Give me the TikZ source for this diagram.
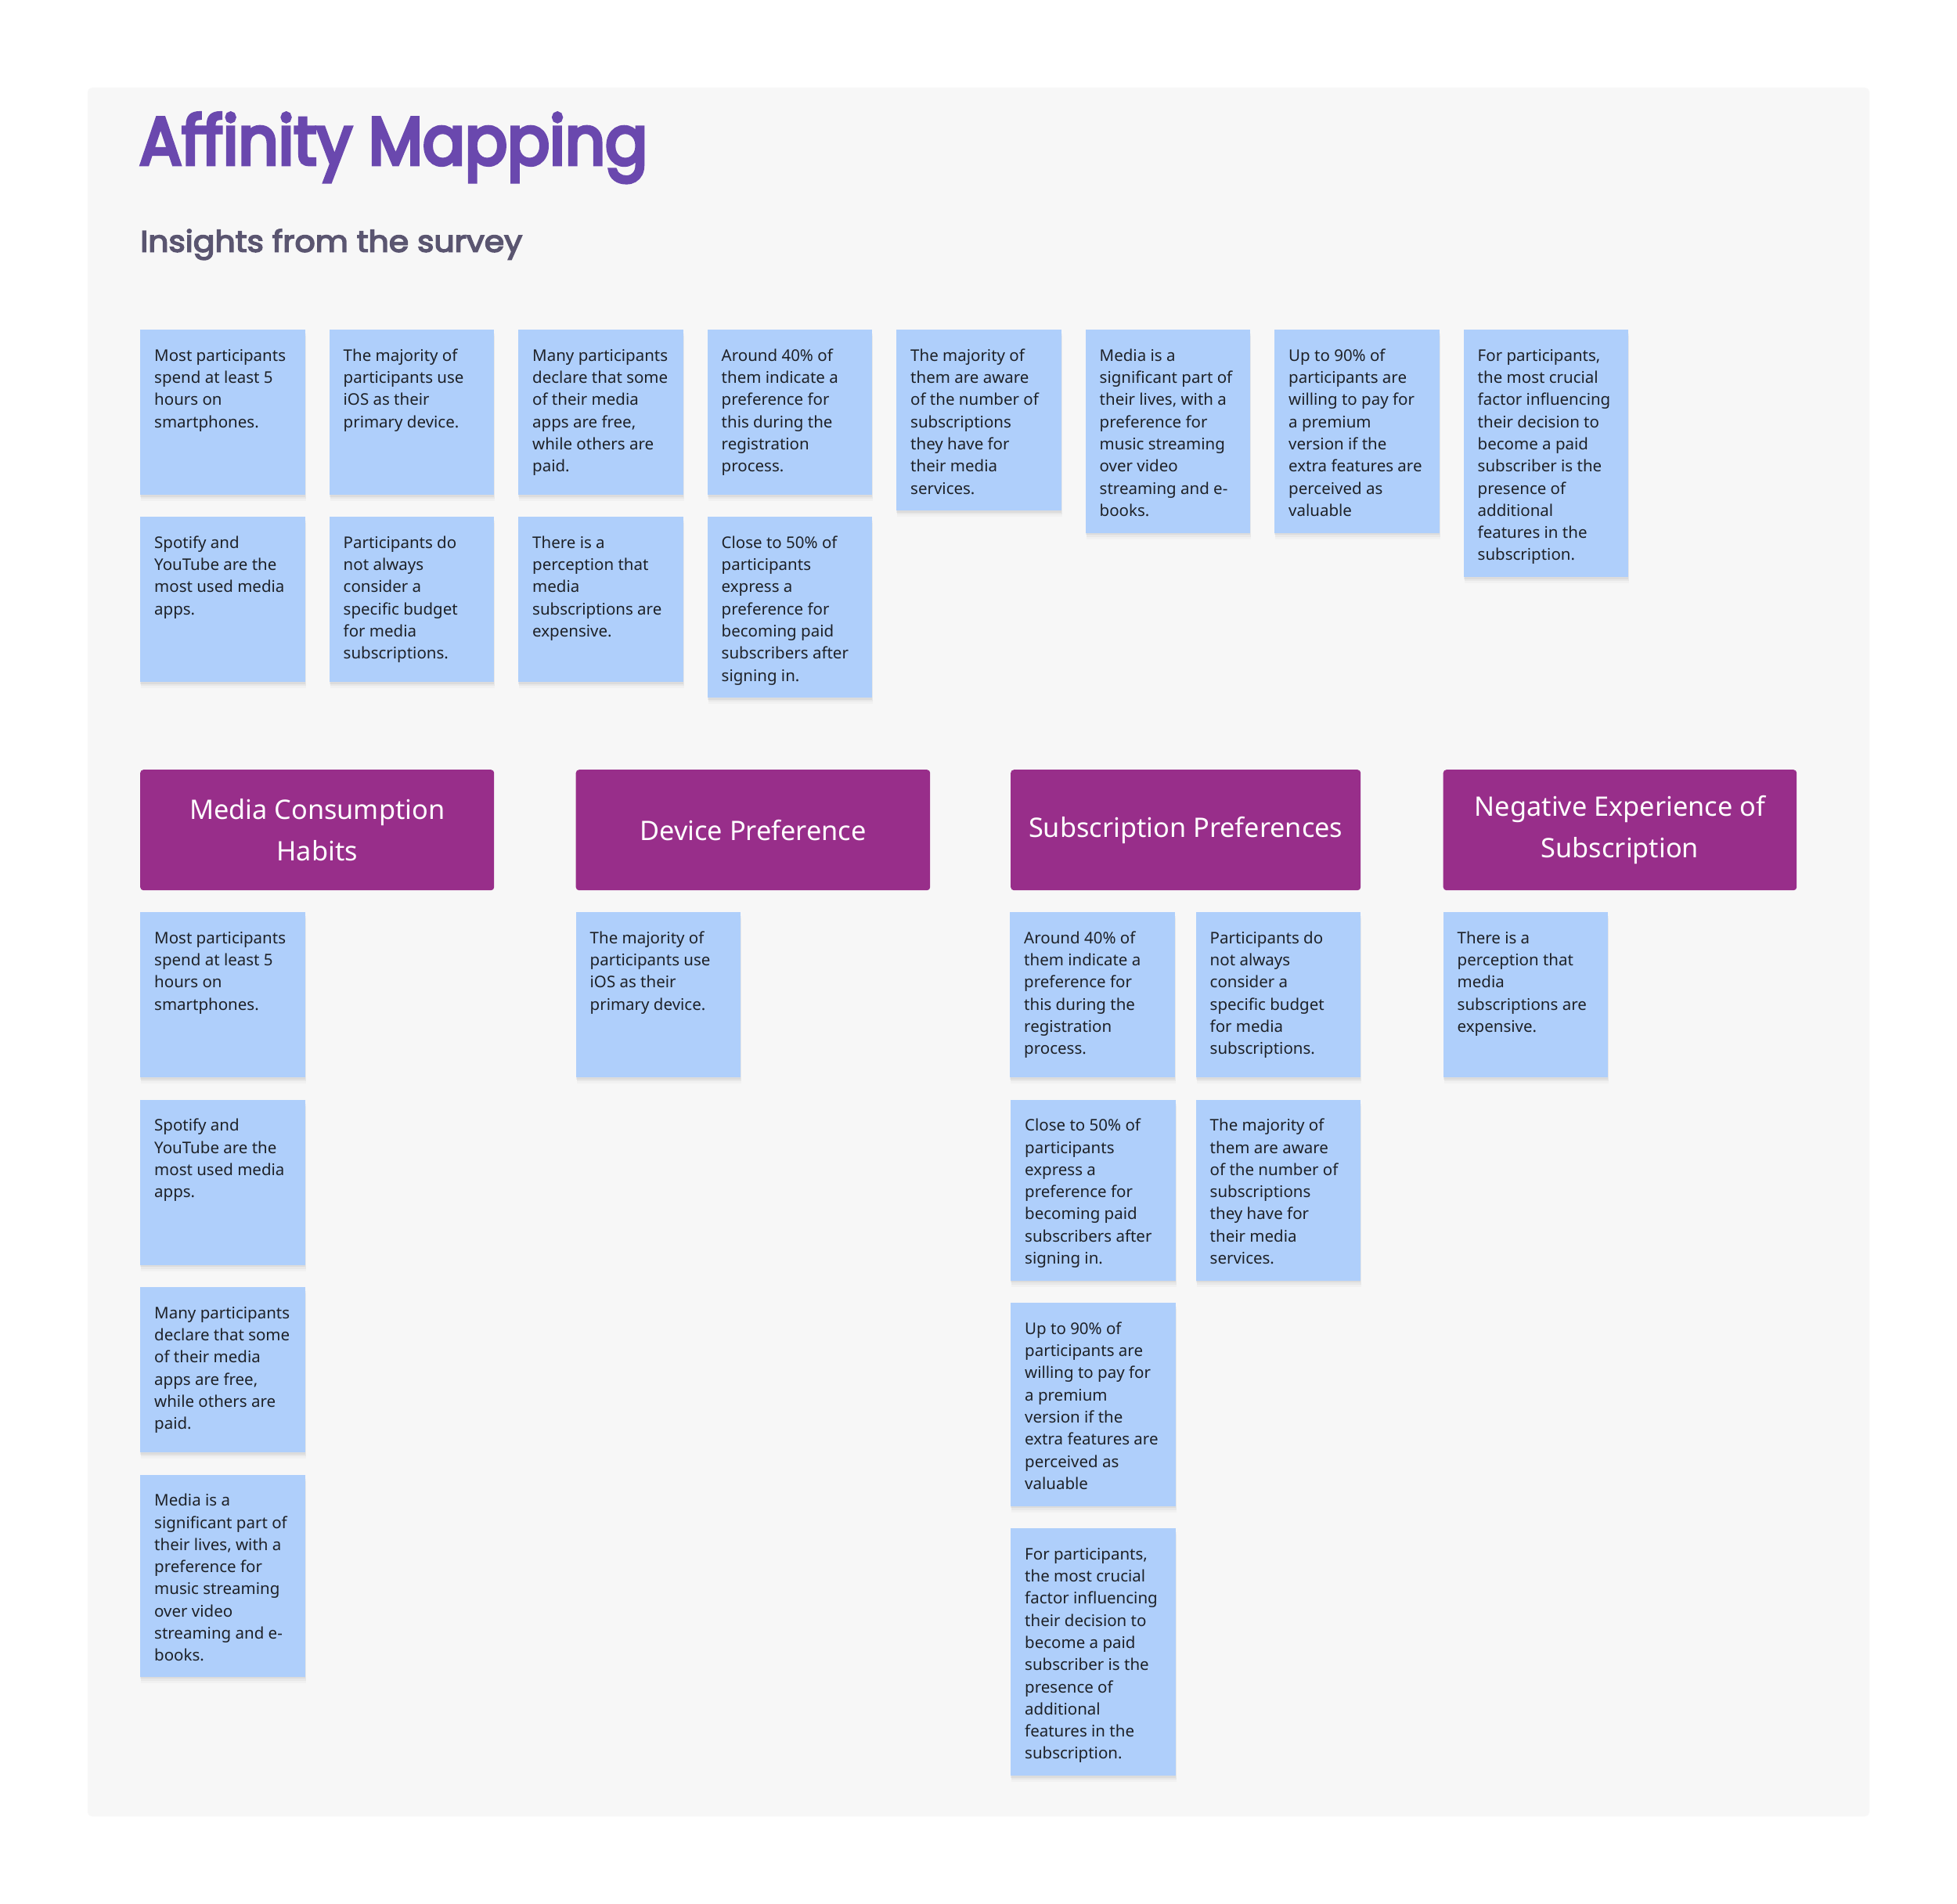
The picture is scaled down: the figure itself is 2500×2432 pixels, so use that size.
\documentclass[tikz,border=0pt]{standalone}
\usepackage{fontspec}
\usepackage{graphicx}
\setmainfont{Noto Sans}
\newfontfamily\titlefont{Poppins}[FakeBold=5.5]
\newfontfamily\subfont{Poppins}[FakeBold=4]
\usetikzlibrary{shadows,calc}
\definecolor{panelc}{HTML}{F7F7F7}
\definecolor{stickyc}{HTML}{AFCFFB}
\definecolor{headc}{HTML}{982E8A}
\definecolor{titlec}{HTML}{6A48AE}
\definecolor{subc}{HTML}{5A5570}
\definecolor{textc}{HTML}{1E2127}
\tikzset{
  sticky/.style={fill=stickyc, draw=none, anchor=north west, minimum width=210.5pt, inner sep=0pt,
    general shadow={fill=black, opacity=.025, shadow yshift=-8pt, shadow xshift=1pt},
    general shadow={fill=black, opacity=.035, shadow yshift=-5pt, shadow xshift=1pt},
    general shadow={fill=black, opacity=.05, shadow yshift=-2.5pt}},
  stxt/.style={anchor=north west, inner sep=0pt, align=left, text=textc,
    font=\fontsize{20.5}{28.3}\selectfont},
  header/.style={fill=headc, draw=none, rounded corners=4pt, anchor=north west, inner sep=0pt,
    minimum height=154pt, align=center, text=white, font=\fontsize{34.3}{53}\selectfont}
}
\newcommand\stk[5]{%
  \node[sticky, minimum height=#4pt] (#1) at (#2,#3) {};
  \node[stxt] (#1t) at ([xshift=18pt,yshift=-20.2pt]#1.north west) {\strut #5};
}
\begin{document}
\begin{tikzpicture}[x=1pt,y=-1pt]
\useasboundingbox (0,0) rectangle (2500,2432);
\fill[white] (0,0) rectangle (2500,2432);
\fill[panelc, rounded corners=6pt] (112,112) rectangle (2388,2320);
\node[anchor=base west, inner sep=0pt, text=titlec] (title) at (178,210)
  {\resizebox{649pt}{\height}{\titlefont\fontsize{86}{90}\selectfont Affinity Mapping}};
\node[anchor=base west, inner sep=0pt, text=subc] (subtitle) at (179,321.7)
  {\resizebox{488pt}{\height}{\subfont\fontsize{38}{42}\selectfont Insights from the survey}};
% top row
\stk{a1}{179}{421}{211}{Most participants\\spend at least 5\\hours on\\smartphones.}
\stk{a2}{420.5}{421}{211}{The majority of\\participants use\\iOS as their\\primary device.}
\stk{a3}{662}{421}{211}{Many participants\\declare that some\\of their media\\apps are free,\\while others are\\paid.}
\stk{a4}{903.5}{421}{211}{Around 40\% of\\them indicate a\\preference for\\this during the\\registration\\process.}
\stk{a5}{1145}{421}{231}{The majority of\\them are aware\\of the number of\\subscriptions\\they have for\\their media\\services.}
\stk{a6}{1386.5}{421}{259.5}{Media is a\\significant part of\\their lives, with a\\preference for\\music streaming\\over video\\streaming and e-\\books.}
\stk{a7}{1628}{421}{259.5}{Up to 90\% of\\participants are\\willing to pay for\\a premium\\version if the\\extra features are\\perceived as\\valuable}
\stk{a8}{1869.5}{421}{316}{For participants,\\the most crucial\\factor influencing\\their decision to\\become a paid\\subscriber is the\\presence of\\additional\\features in the\\subscription.}
\stk{b1}{179}{660}{211}{Spotify and\\YouTube are the\\most used media\\apps.}
\stk{b2}{420.5}{660}{211}{Participants do\\not always\\consider a\\specific budget\\for media\\subscriptions.}
\stk{b3}{662}{660}{211}{There is a\\perception that\\media\\subscriptions are\\expensive.}
\stk{b4}{903.5}{660}{231}{Close to 50\% of\\participants\\express a\\preference for\\becoming paid\\subscribers after\\signing in.}
% headers
\node[header, minimum width=452pt] (h1) at (179,983) {Media Consumption\\Habits};
\node[header, minimum width=452.5pt] (h2) at (735.5,983) {Device Preference};
\node[header, minimum width=447pt] (h3) at (1291,983) {Subscription Preferences};
\node[header, minimum width=451.5pt] (h4) at (1843.5,983) {Negative Experience of\\Subscription};
% group 1
\stk{c1}{179}{1165}{211}{Most participants\\spend at least 5\\hours on\\smartphones.}
\stk{c2}{179}{1404.5}{211}{Spotify and\\YouTube are the\\most used media\\apps.}
\stk{c3}{179}{1644}{211}{Many participants\\declare that some\\of their media\\apps are free,\\while others are\\paid.}
\stk{c4}{179}{1883.5}{258}{Media is a\\significant part of\\their lives, with a\\preference for\\music streaming\\over video\\streaming and e-\\books.}
% group 2
\stk{d1}{735.5}{1165}{211}{The majority of\\participants use\\iOS as their\\primary device.}
% group 3
\stk{e1}{1290}{1165}{211}{Around 40\% of\\them indicate a\\preference for\\this during the\\registration\\process.}
\stk{e2}{1527.5}{1165}{211}{Participants do\\not always\\consider a\\specific budget\\for media\\subscriptions.}
\stk{e3}{1291}{1404.5}{231}{Close to 50\% of\\participants\\express a\\preference for\\becoming paid\\subscribers after\\signing in.}
\stk{e4}{1527.5}{1404.5}{231}{The majority of\\them are aware\\of the number of\\subscriptions\\they have for\\their media\\services.}
\stk{e5}{1291}{1664}{259.5}{Up to 90\% of\\participants are\\willing to pay for\\a premium\\version if the\\extra features are\\perceived as\\valuable}
\stk{e6}{1291}{1952}{316}{For participants,\\the most crucial\\factor influencing\\their decision to\\become a paid\\subscriber is the\\presence of\\additional\\features in the\\subscription.}
% group 4
\stk{f1}{1843.5}{1165}{211}{There is a\\perception that\\media\\subscriptions are\\expensive.}
\end{tikzpicture}
\end{document}
